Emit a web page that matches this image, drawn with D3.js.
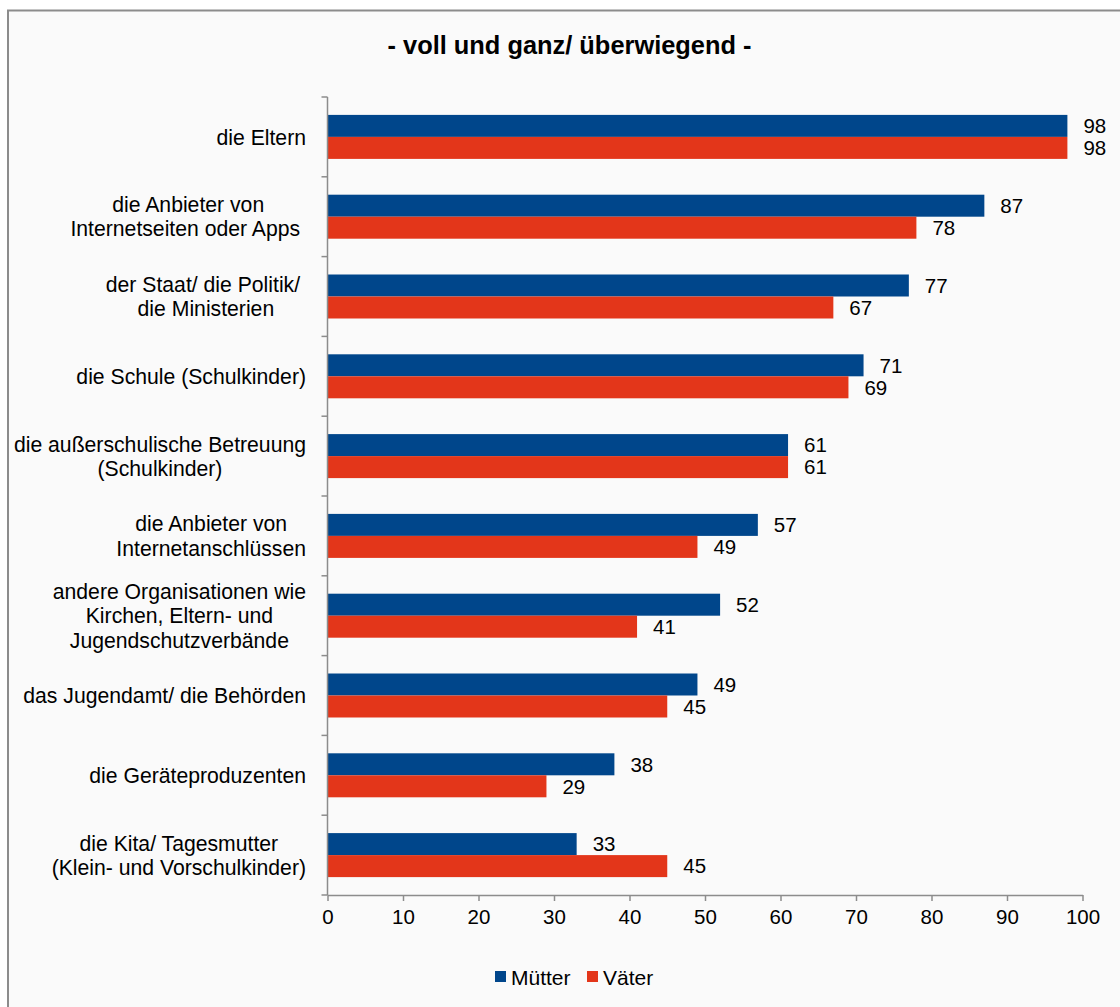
<!DOCTYPE html>
<html>
<head>
<meta charset="utf-8">
<script src="https://cdn.jsdelivr.net/npm/d3@7"></script>
<style>
  html, body { margin: 0; padding: 0; background: #ffffff; }
  svg { display: block; font-family: "Liberation Sans", Arial, sans-serif; }
</style>
</head>
<body>
<svg id="chart" width="1120" height="1007"></svg>
<script>
const title = "- voll und ganz/ überwiegend -";
const categories = [
  ["die Eltern"],
  ["die Anbieter von", "Internetseiten oder Apps\u00a0"],
  ["der Staat/ die Politik/\u00a0", "die Ministerien"],
  ["die Schule (Schulkinder)"],
  ["die außerschulische Betreuung", "(Schulkinder)"],
  ["die Anbieter von", "Internetanschlüssen"],
  ["andere Organisationen wie", "Kirchen, Eltern- und", "Jugendschutzverbände"],
  ["das Jugendamt/ die Behörden"],
  ["die Geräteproduzenten"],
  ["die Kita/ Tagesmutter", "(Klein- und Vorschulkinder)"]
];
const seriesNames = ["Mütter", "Väter"];
const muetter = [98, 87, 77, 71, 61, 57, 52, 49, 38, 33];
const vaeter  = [98, 78, 67, 69, 61, 49, 41, 45, 29, 45];
const xTicks = [0, 10, 20, 30, 40, 50, 60, 70, 80, 90, 100];
const colors = ["#00468b", "#e3361a"];

const svg = d3.select("#chart");
const FS = 20.5;
const FS_CAT = 21.2;

// background + border
svg.append("rect").attr("x", 0).attr("y", 0).attr("width", 1120).attr("height", 1007).attr("fill", "#ffffff");
svg.append("rect").attr("x", 8).attr("y", 10.5).attr("width", 1200).attr("height", 1100)
  .attr("fill", "#fafafa").attr("stroke", "#8c8c8c").attr("stroke-width", 2);

// title
svg.append("text").attr("x", 569.5).attr("y", 54).attr("text-anchor", "middle")
  .attr("font-size", 25.4).attr("font-weight", "bold").attr("fill", "#000").text(title);

const catIdx = categories.map((d, i) => i);
const x = d3.scaleLinear().domain([0, 100]).range([327.5, 1082.5]);
const y = d3.scaleBand().domain(catIdx).range([97, 895]).paddingInner(0).paddingOuter(0);
const barH = 22;
const inner = d3.scaleBand().domain(seriesNames).range([0, barH * 2]);
const offset = (y.bandwidth() - barH * 2) / 2;

const data = catIdx.map(i => ({ i, vals: [muetter[i], vaeter[i]] }));

const groups = svg.append("g").selectAll("g").data(data).join("g")
  .attr("transform", d => `translate(0,${y(d.i) + offset})`);

groups.selectAll("rect").data(d => d.vals.map((v, k) => ({ v, k }))).join("rect")
  .attr("x", x(0))
  .attr("y", d => inner(seriesNames[d.k]))
  .attr("width", d => x(d.v) - x(0))
  .attr("height", inner.bandwidth())
  .attr("fill", d => colors[d.k]);

groups.selectAll("text").data(d => d.vals.map((v, k) => ({ v, k }))).join("text")
  .attr("x", d => x(d.v) + 16)
  .attr("y", d => inner(seriesNames[d.k]) + inner.bandwidth() / 2)
  .attr("dy", "0.36em")
  .attr("font-size", FS).attr("fill", "#000")
  .text(d => d.v);

// y axis
const axisColor = "#8c8c8c";
const yAxisG = svg.append("g");
yAxisG.append("line").attr("x1", x(0)).attr("x2", x(0)).attr("y1", 97).attr("y2", 895)
  .attr("stroke", axisColor).attr("stroke-width", 1.5);
const bounds = catIdx.map(i => y(i)).concat([y.range()[1]]);
yAxisG.selectAll("line.tk").data(bounds).join("line").attr("class", "tk")
  .attr("x1", x(0) - 6).attr("x2", x(0)).attr("y1", d => d).attr("y2", d => d)
  .attr("stroke", axisColor).attr("stroke-width", 1.5);

// category labels (centered block, right-aligned)
const labelRight = 306;
const lineH = 24.3;
catIdx.forEach(i => {
  const lines = categories[i];
  const cy = y(i) + y.bandwidth() / 2;
  const t = svg.append("text").attr("font-size", FS_CAT).attr("fill", "#000").attr("text-anchor", "middle");
  const spans = lines.map((ln, j) => t.append("tspan").text(ln));
  const maxW = d3.max(spans, s => s.node().getComputedTextLength());
  const cx = labelRight - maxW / 2;
  spans.forEach((s, j) => {
    s.attr("x", cx).attr("y", cy + (j - (lines.length - 1) / 2) * lineH).attr("dy", "0.36em");
  });
});

// x axis
const xAxis = d3.axisBottom(x).tickValues(xTicks).tickSize(6).tickSizeOuter(0).tickPadding(8);
const xg = svg.append("g").attr("transform", "translate(0,895)").call(xAxis);
xg.select(".domain").attr("stroke", axisColor).attr("stroke-width", 1.5);
xg.selectAll(".tick line").attr("stroke", axisColor).attr("stroke-width", 1.5);
xg.selectAll(".tick text").attr("font-size", FS).attr("fill", "#000")
  .attr("font-family", "Liberation Sans, Arial, sans-serif");

// legend
const legend = svg.append("g");
const legX = [495, 587];
seriesNames.forEach((s, k) => {
  legend.append("rect").attr("x", legX[k]).attr("y", 971).attr("width", 11).attr("height", 11).attr("fill", colors[k]);
  legend.append("text").attr("x", legX[k] + 16).attr("y", 985).attr("font-size", 21).attr("fill", "#000").text(s);
});
</script>
</body>
</html>
